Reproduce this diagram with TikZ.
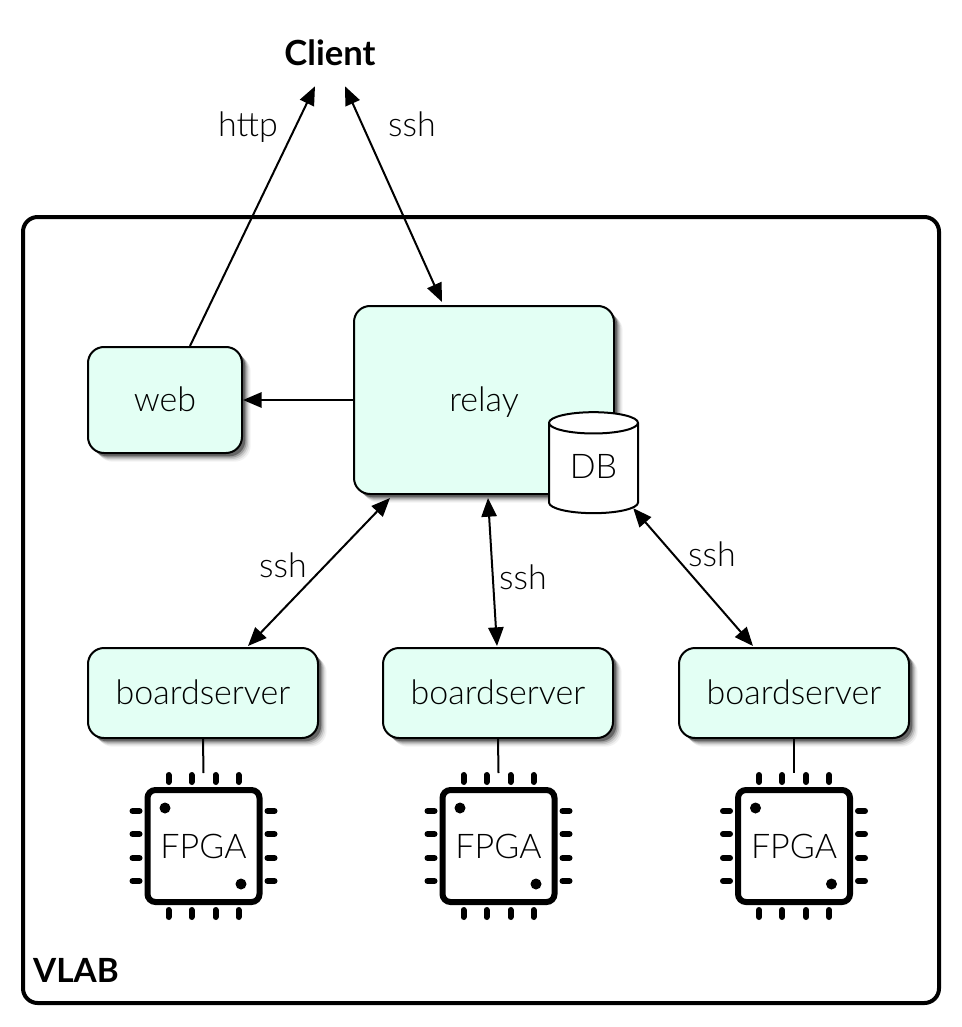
\documentclass[tikz,border=0pt]{standalone}
\usepackage{fontspec}
\setmainfont{Lato Light}[BoldFont=Lato Bold]
\usepackage{xcolor}
\usetikzlibrary{calc,shapes.geometric,shadows,arrows.meta}
\definecolor{boxmint}{HTML}{E3FFF4}

\tikzset{
    softshadow/.style={
        drop shadow={shadow xshift=6.5pt,shadow yshift=-6.5pt,fill=black,opacity=0.05},
        drop shadow={shadow xshift=5.5pt,shadow yshift=-5.5pt,fill=black,opacity=0.08},
        drop shadow={shadow xshift=4.5pt,shadow yshift=-4.5pt,fill=black,opacity=0.12},
        drop shadow={shadow xshift=3.5pt,shadow yshift=-3.5pt,fill=black,opacity=0.2},
        drop shadow={shadow xshift=2.5pt,shadow yshift=-2.5pt,fill=black,opacity=0.35}},
    mintbox/.style={draw,line width=1.5pt,rounded corners=12pt,fill=boxmint,softshadow,font=\fontsize{25.5}{30}\selectfont,text height=18pt,text depth=0.5pt},
    boardbox/.style={mintbox,minimum width=172.5pt,minimum height=67.5pt},
    fpgabox/.style={draw,line width=4.5pt,rounded corners=6pt,minimum width=84pt,minimum height=84pt,inner sep=0pt,font=\fontsize{25.5}{30}\selectfont},
    dbcan/.style={draw,fill=white,line width=1.5pt,cylinder,shape border rotate=90,shape aspect=0.45,minimum width=66.75pt,minimum height=75.75pt,inner sep=0pt,font=\fontsize{25.5}{30}\selectfont,text depth=3pt},
    linklabel/.style={font=\fontsize{25.5}{30}\selectfont,inner sep=0pt,text height=18pt,text depth=0.5pt},
    boldlabel/.style={font=\fontsize{25}{30}\selectfont\bfseries,inner sep=0pt},
    link/.style={line width=1.5pt,-{Triangle[length=14pt,width=11.5pt]}},
    duplex/.style={line width=1.5pt,{Triangle[length=14pt,width=11.5pt]}-{Triangle[length=14pt,width=11.5pt]}},
    pin/.style={line width=4.5pt,line cap=round},
}

\begin{document}
\begin{tikzpicture}[x=0.75pt,y=0.75pt,yscale=-1,xscale=1]
    \useasboundingbox (0,0) rectangle (962,1027);

    % outer box
    \node [draw,line width=3pt,rounded corners=11pt,minimum width=687pt,minimum height=589.5pt] (vlab) at (481,610) {};
    \node [boldlabel] (vlabtext) at (76,970) {VLAB};
    \node [boldlabel,font=\fontsize{26}{30}\selectfont\bfseries] (client) at (330,53) {Client};

    % servers
    \node [mintbox,minimum width=115.5pt,minimum height=79.5pt] (web) at (165,400) {web};
    \node [mintbox,minimum width=195pt,minimum height=141pt] (relay) at (484,400) {relay};
    \node [dbcan] (db) at (593.5,468.5) {DB};

    % boards and chips
    \foreach \chipx/\boardx [count=\i] in {203.5/203,498.5/498,794/794} {
        \node [boardbox] (board\i) at (\boardx,693) {boardserver};
        \node [fpgabox] (fpga\i) at (\chipx,846) {FPGA};
        \foreach \off in {-35,-12,12,35} {
            \draw [pin] ($(fpga\i)+(\off,-71)$) -- ($(fpga\i)+(\off,-64)$);
            \draw [pin] ($(fpga\i)+(\off,64)$) -- ($(fpga\i)+(\off,71)$);
            \draw [pin] ($(fpga\i)+(-71,\off)$) -- ($(fpga\i)+(-64,\off)$);
            \draw [pin] ($(fpga\i)+(64,\off)$) -- ($(fpga\i)+(71,\off)$);
        }
        \fill ($(fpga\i)+(-38.5,-38)$) circle [radius=5.5];
        \fill ($(fpga\i)+(37.5,38)$) circle [radius=5.5];
        \draw [line width=1.5pt] (board\i.south) -- ($(fpga\i)+(0,-73)$);
    }

    % connectors
    \draw [link] ($(web.north)+(25,0)$) -- ($(client.south)+(-15,20)$);
    \draw [duplex] ($(client.south)+(15,20)$) -- ($(relay.north)+(-42,-3)$);
    \draw [link] (relay.west |- web) -- (web.east);
    \draw [duplex] ($(relay.south)+(-94,3)$) -- ($(board1.north)+(45,-1)$);
    \draw [duplex] ($(relay.south)+(4,3)$) -- ($(board2.north)+(-1,-1)$);
    \draw [duplex] (db.south east) -- ($(board3.north)+(-41,-1)$);

    % labels
    \node [linklabel] (lhttp) at (248,125) {http};
    \node [linklabel] (lssh) at (412,125) {ssh};
    \node [linklabel] (lsshb) at (283,566) {ssh};
    \node [linklabel] (lsshc) at (523,578) {ssh};
    \node [linklabel] (lsshd) at (712,555) {ssh};
\end{tikzpicture}
\end{document}
